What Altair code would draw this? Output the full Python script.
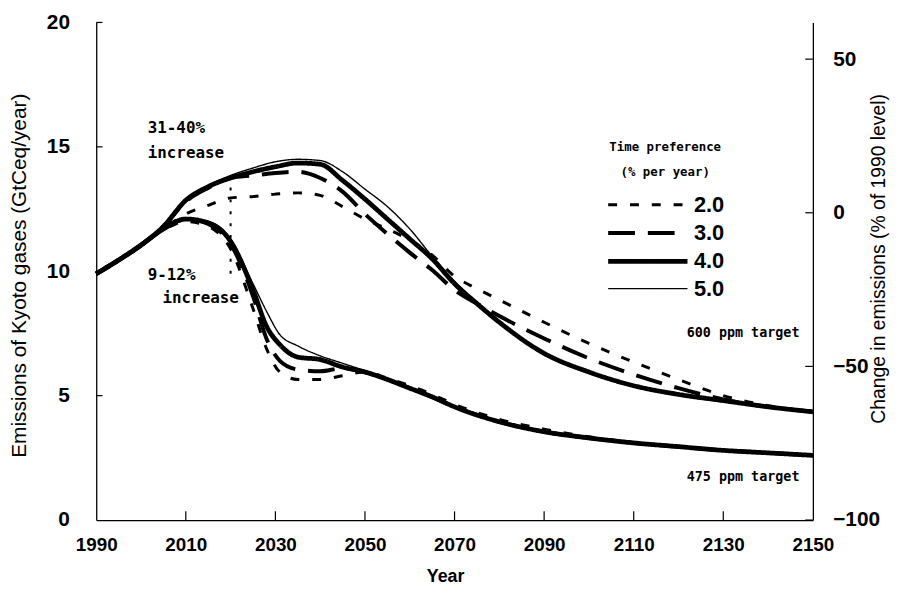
import altair as alt
import pandas as pd

# ---------------- data ----------------
prefs = ["2.0", "3.0", "4.0", "5.0"]

years_hi = [1990, 1995, 2000, 2005, 2010, 2015, 2020, 2025, 2030, 2035, 2040, 2045, 2050,
            2055, 2060, 2065, 2070, 2075, 2080, 2090, 2100, 2110, 2120, 2130, 2140, 2150]
hi_20 = [9.9, 10.45, 11.05, 11.7, 12.3, 12.65, 12.95, 13.0, 13.1, 13.15, 13.05, 12.6, 12.1,
         11.7, 11.25, 10.65, 9.8, 9.3, 8.85, 7.95, 7.1, 6.35, 5.65, 5.0, 4.6, 4.35]
hi_30 = [9.9, 10.45, 11.05, 11.8, 12.8, 13.35, 13.75, 13.85, 13.95, 14.0, 13.75, 13.2, 12.3,
         11.5, 10.75, 10.05, 9.25, 8.7, 8.2, 7.3, 6.5, 5.85, 5.3, 4.85, 4.55, 4.35]
hi_40 = [9.9, 10.45, 11.05, 11.8, 12.85, 13.4, 13.75, 14.0, 14.2, 14.35, 14.3, 13.65, 12.9,
         12.1, 11.3, 10.5, 9.5, 8.7, 7.95, 6.7, 5.95, 5.4, 5.05, 4.8, 4.55, 4.35]
hi_50 = [9.9, 10.45, 11.05, 11.8, 12.9, 13.45, 13.85, 14.15, 14.4, 14.5, 14.45, 14.0, 13.3,
         12.6, 11.7, 10.6, 9.6, 8.75, 7.95, 6.65, 5.9, 5.35, 5.0, 4.75, 4.55, 4.35]

years_lo = [1990, 1995, 2000, 2005, 2010, 2015, 2020, 2025, 2028, 2031, 2035, 2040, 2045,
            2050, 2055, 2060, 2065, 2070, 2080, 2090, 2100, 2110, 2120, 2130, 2140, 2150]
lo_20 = [9.9, 10.45, 11.05, 11.65, 12.0, 11.8, 10.9, 8.5, 6.9, 5.95, 5.65, 5.65, 5.8,
         5.95, 5.7, 5.4, 5.05, 4.65, 4.05, 3.65, 3.35, 3.12, 2.95, 2.8, 2.7, 2.6]
lo_30 = [9.9, 10.45, 11.05, 11.7, 12.1, 11.9, 11.1, 9.0, 7.3, 6.4, 6.05, 5.98, 6.1,
         5.95, 5.65, 5.3, 4.95, 4.55, 3.95, 3.55, 3.3, 3.1, 2.95, 2.8, 2.7, 2.6]
lo_40 = [9.9, 10.45, 11.05, 11.7, 12.1, 11.95, 11.2, 9.25, 7.8, 7.05, 6.55, 6.45, 6.15,
         5.95, 5.65, 5.3, 4.95, 4.55, 3.95, 3.55, 3.3, 3.1, 2.95, 2.8, 2.7, 2.6]
lo_50 = [9.9, 10.45, 11.05, 11.7, 12.1, 12.0, 11.3, 9.5, 8.4, 7.45, 7.0, 6.6, 6.3,
         6.0, 5.65, 5.3, 4.95, 4.55, 3.95, 3.55, 3.3, 3.1, 2.95, 2.8, 2.7, 2.6]

# dotted vertical marker at 2020 (from 1990 level up to the 600 ppm path)
vline_year = [2020]
vline_lo = [9.9]
vline_hi = [13.95]

# annotations
ann_left_text = ["31-40%", "increase", "9-12%", "increase"]
ann_left_year = [2001.5, 2001.5, 2001.5, 2004.8]
ann_left_value = [15.75, 14.75, 9.85, 8.92]
ann_right_text = ["600 ppm target", "475 ppm target"]
ann_right_year = [2147, 2147]
ann_right_value = [7.5, 1.72]

# axis ticks
x_ticks = [1990, 2010, 2030, 2050, 2070, 2090, 2110, 2130, 2150]
y_ticks = [0, 5, 10, 15, 20]
r_ticks = [-100, -50, 0, 50]
base_1990 = 12.35                      # level that corresponds to 0 % on right axis
r_top = (20 / base_1990 - 1) * 100

# ---------------- build tables ----------------
rows = []
for target, yrs, series in [("600 ppm", years_hi, [hi_20, hi_30, hi_40, hi_50]),
                            ("475 ppm", years_lo, [lo_20, lo_30, lo_40, lo_50])]:
    for p, vals in zip(prefs, series):
        for yr, v in zip(yrs, vals):
            rows.append({"year": yr, "value": v, "pref": p, "target": target})
df = pd.DataFrame(rows)

W, H = 723, 502


def xs():
    return alt.Scale(domain=[1990, 2150], nice=False, zero=False)


def ys():
    return alt.Scale(domain=[0, 20], nice=False, zero=False)


def x_axis():
    return alt.Axis(values=x_ticks, format="d", title="Year",
                    labelFont="Liberation Sans", labelFontSize=19, labelFontWeight="bold",
                    labelPadding=16, labelFlush=False,
                    titleFont="Liberation Sans", titleFontSize=18, titleFontWeight="bold",
                    titleX=352, titleY=57, titleBaseline="middle")


def X(field):
    return alt.X(field, scale=xs(), axis=x_axis())


leg = alt.Legend(
    title=["Time preference", "(% per year)"],
    orient="none", legendX=514, legendY=120,
    symbolType="M-1,0H7", symbolSize=400, symbolStrokeColor="black",
    symbolFillColor="transparent",
    labelFont="Liberation Sans", labelFontSize=22, labelFontWeight="bold",
    labelColor="black", labelOffset=64,
    titleFont="DejaVu Sans Mono", titleFontSize=12.5, titleFontWeight="bold",
    titleColor="black", titleLineHeight=25, titleAnchor="middle", titleAlign="center",
    titlePadding=15, rowPadding=5, padding=0,
)

lines = alt.Chart(df).mark_line(color="black", strokeCap="butt", interpolate="monotone").encode(
    x=X("year:Q"),
    y=alt.Y("value:Q", scale=ys(),
            axis=alt.Axis(values=y_ticks, title="Emissions of Kyoto gases (GtCeq/year)",
                          labelFont="Liberation Sans", labelFontSize=21, labelFontWeight="bold",
                          labelPadding=27,
                          titleFont="Liberation Sans", titleFontSize=21, titleFontWeight="normal",
                          titleAngle=270, titleX=-77, titleY=255, titleBaseline="middle",
                          titleAlign="center")),
    detail="target:N",
    strokeDash=alt.StrokeDash("pref:N", scale=alt.Scale(type="ordinal", domain=prefs,
                              range=[[9, 13], [27, 13], [1, 0], [1, 0]]), legend=leg),
    strokeWidth=alt.StrokeWidth("pref:N", scale=alt.Scale(type="ordinal", domain=prefs,
                                range=[3, 4, 4.8, 1.4]), legend=leg),
)

vdf = pd.DataFrame({"year": vline_year, "lo": vline_lo, "hi": vline_hi})
vline = alt.Chart(vdf).mark_rule(color="black", strokeDash=[3, 9], strokeWidth=2).encode(
    x=X("year:Q"),
    y=alt.Y("lo:Q", scale=ys(), axis=None),
    y2="hi:Q",
)

adf_l = pd.DataFrame({"year": ann_left_year, "value": ann_left_value, "text": ann_left_text})
ann_l = alt.Chart(adf_l).mark_text(align="left", baseline="middle", font="DejaVu Sans Mono",
                                    fontSize=16, fontWeight="bold", color="black").encode(
    x=X("year:Q"),
    y=alt.Y("value:Q", scale=ys(), axis=None),
    text="text:N",
)
adf_r = pd.DataFrame({"year": ann_right_year, "value": ann_right_value, "text": ann_right_text})
ann_r = alt.Chart(adf_r).mark_text(align="right", baseline="middle", font="DejaVu Sans Mono",
                                    fontSize=13.5, fontWeight="bold", color="black").encode(
    x=X("year:Q"),
    y=alt.Y("value:Q", scale=ys(), axis=None),
    text="text:N",
)

# inward tick marks
xt = pd.DataFrame({"year": x_ticks[1:-1], "y0": 0.0, "y1": 0.35})
xtick = alt.Chart(xt).mark_rule(color="black", strokeWidth=1.2).encode(
    x=X("year:Q"),
    y=alt.Y("y0:Q", scale=ys(), axis=None), y2="y1:Q")
yt = pd.DataFrame({"value": y_ticks[1:], "x0": 1990.0, "x1": 1991.4})
ytick = alt.Chart(yt).mark_rule(color="black", strokeWidth=1.2).encode(
    x=X("x0:Q"), x2="x1:Q",
    y=alt.Y("value:Q", scale=ys(), axis=None))

rt = pd.DataFrame({"r": r_ticks, "x0": 2150.0, "x1": 2148.3})
right = alt.Chart(rt).mark_rule(color="black", strokeWidth=1.2).encode(
    x=X("x0:Q"), x2="x1:Q",
    y=alt.Y("r:Q", scale=alt.Scale(domain=[-100, r_top], nice=False, zero=False),
            axis=alt.Axis(orient="right", values=r_ticks,
                          title="Change in emissions (% of 1990 level)",
                          labelFont="Liberation Sans", labelFontSize=21, labelFontWeight="bold",
                          labelPadding=20,
                          titleFont="Liberation Sans", titleFontSize=19.5, titleFontWeight="normal",
                          titleAngle=270, titleX=66, titleY=238, titleBaseline="middle",
                          titleAlign="center")),
)

chart = alt.layer(lines, vline, ann_l, ann_r, xtick, ytick, right).resolve_scale(
    y="independent").properties(
    width=W, height=H,
    autosize=alt.AutoSizeParams(type="none"),
    padding={"left": 89, "top": 12, "right": 99, "bottom": 69},
    background="white",
).configure_view(stroke=None).configure_axis(
    grid=False, ticks=False, tickSize=0, domainColor="black", domainWidth=1.3,
    labelColor="black", titleColor="black",
)

chart.save("out.html", embed_options={"renderer": "svg", "actions": False})
